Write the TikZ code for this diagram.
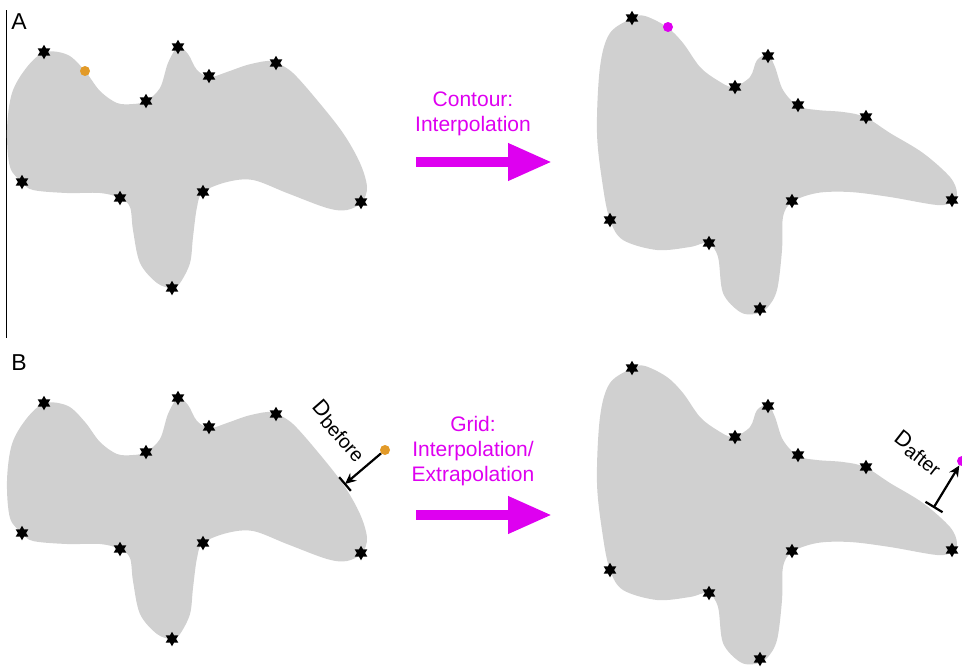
\documentclass[tikz,border=0pt]{standalone}
\usepackage{fontspec}
\setmainfont{Liberation Sans}
\usetikzlibrary{shapes.geometric,arrows.meta,calc}
\definecolor{blobgray}{RGB}{208,208,208}
\definecolor{mag}{RGB}{222,0,240}
\definecolor{orng}{RGB}{226,154,40}
\tikzset{
  landmark/.style={star,star points=6,star point ratio=1.75,minimum size=14.5pt,inner sep=0pt,fill=black,draw=none},
  blob/.style={fill=blobgray,draw=none},
  odot/.style={circle,fill=orng,minimum size=10pt,inner sep=0pt,draw=none},
  mdot/.style={circle,fill=mag,minimum size=10pt,inner sep=0pt,draw=none},
  bigarrow/.style={draw=mag,line width=10pt,-{Triangle[length=44pt,width=35pt]}},
  magtext/.style={text=mag,font=\fontsize{21}{25}\selectfont,align=center},
  panel/.style={font=\fontsize{23}{25}\selectfont},
  dist/.style={font=\fontsize{22}{24}\selectfont,inner sep=1pt},
  measure/.style={line width=2.2pt,-{Stealth[length=11pt,width=10pt]}},
  barline/.style={line width=2.2pt}
}
\newcommand{\subtxt}[1]{\raisebox{-0.3ex}{\fontsize{19.5}{20}\selectfont #1}}
\newcommand{\blobleft}{plot[smooth cycle,tension=0.55] coordinates {
(45,52) (68,55) (85,71) (100,91) (117,103) (133,104) (146,101) (160,88) (168,63) (178,47) (188,54) (197,70) (210,77) (227,72) (247,65) (267,61) (277,63) (293,73) (317,100) (343,133) (360,163) (367,187) (362,202) (347,210) (327,208) (287,193) (253,180) (227,182) (203,192) (197,207) (193,237) (190,263) (180,283) (172,288) (157,283) (140,263) (133,230) (130,207) (120,198) (100,193) (67,193) (33,190) (22,182) (10,167) (7,130) (12,93) (27,67)}}
\newcommand{\blobright}{plot[smooth cycle,tension=0.55] coordinates {
(633,18) (645,16) (667,27) (683,43) (700,67) (717,80) (733,87) (750,77) (757,60) (768,55) (775,67) (783,90) (798,106) (817,110) (843,112) (865,117) (890,133) (923,153) (950,177) (957,193) (952,202) (937,205) (890,197) (850,192) (817,193) (792,202) (783,217) (782,250) (777,290) (767,308) (755,314) (740,312) (723,293) (718,257) (708,243) (690,247) (657,250) (623,240) (610,220) (603,187) (597,133) (600,67) (610,33)}}
\begin{document}
\begin{tikzpicture}[x=1pt,y=-1pt]
\useasboundingbox (0,0) rectangle (962,667);
% panel labels and divider
\coordinate (vtop) at (6,10);
\coordinate (vbot) at (6,338);
\draw[line width=1pt] (vtop) -- (vbot);
\node[panel] (lA) at (19,22) {A};
\node[panel] (lB) at (19,363) {B};
% ---------- A ----------
\fill[blob] \blobleft;
\fill[blob] \blobright;
\foreach \n/\p in {1/{(44,52)},2/{(178,47)},3/{(209,76)},4/{(146,101)},5/{(276,63)},6/{(22,182)},7/{(120,198)},8/{(203,192)},9/{(172,288)},10/{(361,202)}}
  \node[landmark] (aL\n) at \p {};
\foreach \n/\p in {1/{(632,18)},2/{(735,87)},3/{(768,56)},4/{(798,105)},5/{(866,117)},6/{(952,200)},7/{(792,201)},8/{(709,243)},9/{(610,220)},10/{(760,309)}}
  \node[landmark] (aR\n) at \p {};
\node[odot] (aod) at (85,71) {};
\node[mdot] (amd) at (668,27) {};
\coordinate (aarS) at (416,162);
\coordinate (aarE) at (552,162);
\draw[bigarrow] (aarS) -- (aarE);
\node[magtext] (atxt) at (473,114) {Contour:\\Interpolation};
% ---------- B ----------
\begin{scope}[shift={(0,351)}]
\fill[blob] \blobleft;
\foreach \n/\p in {1/{(44,52)},2/{(178,47)},3/{(209,76)},4/{(146,101)},5/{(276,63)},6/{(22,182)},7/{(120,198)},8/{(203,192)},9/{(172,288)},10/{(361,202)}}
  \node[landmark] (bL\n) at \p {};
\end{scope}
\begin{scope}[shift={(0,350)}]
\fill[blob] \blobright;
\foreach \n/\p in {1/{(632,18)},2/{(735,87)},3/{(768,56)},4/{(798,105)},5/{(866,117)},6/{(952,200)},7/{(792,201)},8/{(709,243)},9/{(610,220)},10/{(760,309)}}
  \node[landmark] (bR\n) at \p {};
\end{scope}
\coordinate (barS) at (416,515);
\coordinate (barE) at (552,515);
\draw[bigarrow] (barS) -- (barE);
\node[magtext] (btxt) at (473,451) {Grid:\\Interpolation/\\Extrapolation};
% D before
\node[odot] (bod) at (385,450) {};
\coordinate (bbar) at (345,484);
\draw[measure] (bod) -- (bbar);
\draw[barline] ($(bbar)!9pt!90:(bod)$) -- ($(bbar)!9pt!-90:(bod)$);
\node[dist,rotate=-49] (dbef) at (339,431) {D\subtxt{before}};
% D after
\node[mdot] (bmd) at (962,461) {};
\coordinate (abar) at (934,507);
\draw[measure] (abar) -- (bmd);
\draw[barline] ($(abar)!10pt!90:(bmd)$) -- ($(abar)!10pt!-90:(bmd)$);
\node[dist,rotate=-38] (daft) at (918,453) {D\subtxt{after}};
\end{tikzpicture}
\end{document}
